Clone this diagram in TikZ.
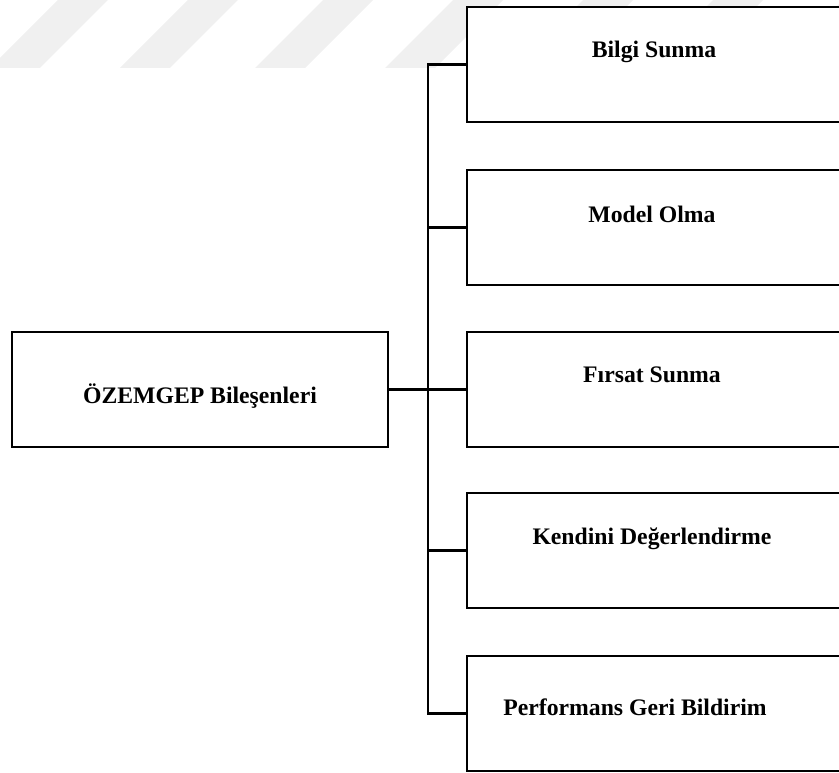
\documentclass[tikz,border=0pt]{standalone}
\usepackage{fontspec}
\setmainfont{Liberation Serif}
\usetikzlibrary{positioning}

\begin{document}
\begin{tikzpicture}[x=1pt,y=-1pt,line width=2.9pt,
    box/.style={draw,fill=white,rectangle,inner sep=0pt,minimum height=115pt,
      minimum width=380pt},
    txt/.style={font=\fontsize{23.7}{28}\selectfont\bfseries,anchor=base,
      inner sep=0pt}]
  \useasboundingbox (0,0) rectangle (839,773);
  \clip (0,0) rectangle (839,773);
  % faint stripes at the top
  \foreach \s in {-10,120,255,385,515,645,775}
    \fill[black!6] (\s,68) -- ++(50,0) -- ++(68,-68) -- ++(-50,0) -- cycle;

  \node[box,minimum width=376pt] (ozemgep) at (200,389.5) {};
  \node[txt] (ozemgep-t) at (200,403) {ÖZEMGEP Bileşenleri};

  \node[box] (bilgi) at (657,64.5) {};
  \node[box] (model) at (657,227.5) {};
  \node[box] (firsat) at (657,389.5) {};
  \node[box] (kendini) at (657,550.5) {};
  \node[box] (performans) at (657,713.5) {};

  \node[txt] (bilgi-t) at (654,58) {Bilgi Sunma};
  \node[txt] (model-t) at (652,223) {Model Olma};
  \node[txt] (firsat-t) at (652,382) {Fırsat Sunma};
  \node[txt] (kendini-t) at (652,544) {Kendini Değerlendirme};
  \node[txt] (performans-t) at (635,715) {Performans Geri Bildirim};

  \coordinate (spine) at (428,0);
  \draw (bilgi.west) -- (bilgi.west -| spine)
    -- (performans.west -| spine) -- (performans.west);
  \foreach \b in {model,firsat,kendini}
    \draw (\b.west -| spine) -- (\b.west);
  \draw (ozemgep.east) -- (firsat.west);
\end{tikzpicture}
\end{document}
